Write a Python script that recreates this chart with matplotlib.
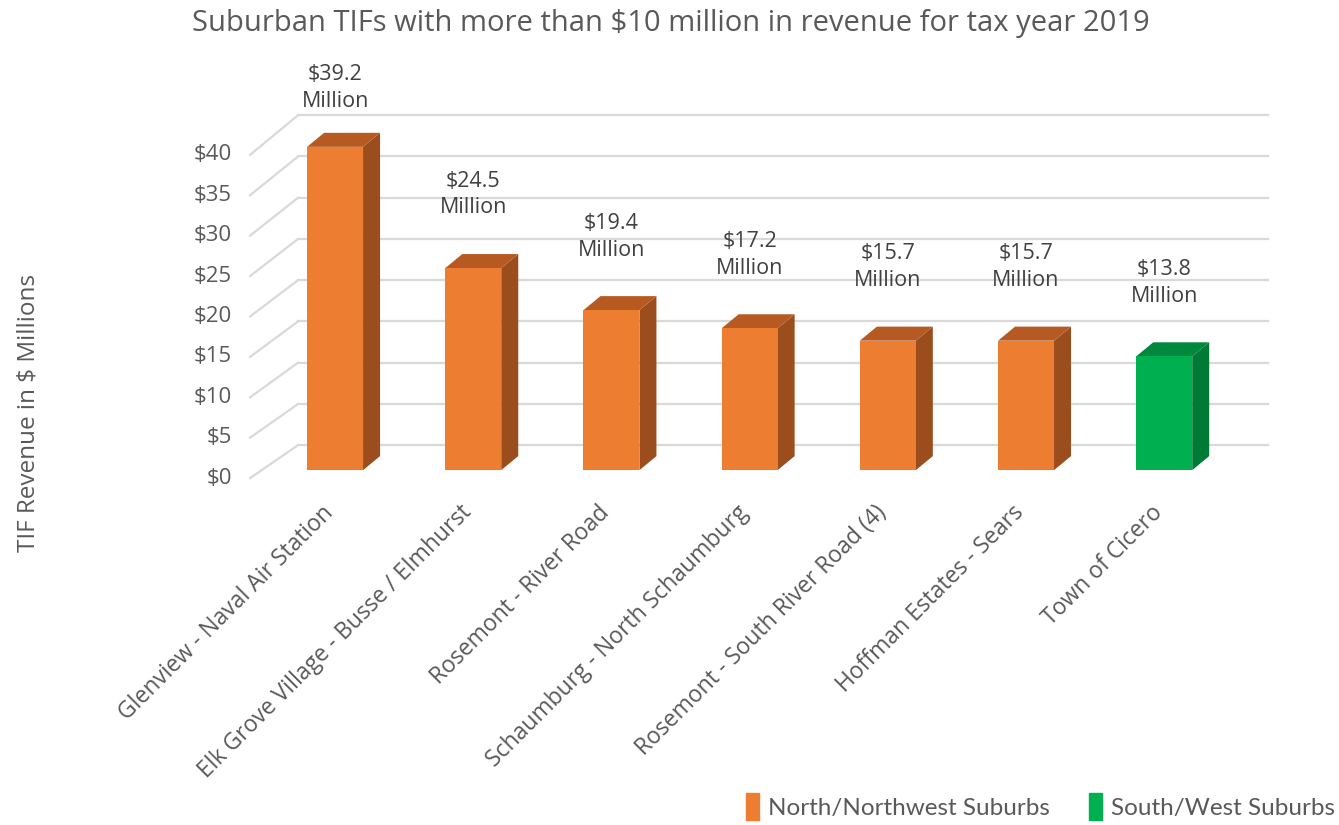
import matplotlib
matplotlib.use("Agg")
import matplotlib.pyplot as plt
from matplotlib.patches import Polygon, Patch

plt.rcParams['font.family'] = ['Open Sans', 'DejaVu Sans']

# data
tifs = ['Glenview - Naval Air Station', 'Elk Grove Village - Busse / Elmhurst',
        'Rosemont - River Road', 'Schaumburg - North Schaumburg',
        'Rosemont - South River Road (4)', 'Hoffman Estates - Sears',
        'Town of Cicero']
revenue = [39.2, 24.5, 19.4, 17.2, 15.7, 15.7, 13.8]
region = ['North/Northwest Suburbs'] * 6 + ['South/West Suburbs']
yticks = [0, 5, 10, 15, 20, 25, 30, 35, 40]

front = {'North/Northwest Suburbs': '#ED7D31', 'South/West Suburbs': '#00B050'}
side = {'North/Northwest Suburbs': '#9C4D1D', 'South/West Suburbs': '#007A35'}
top = {'North/Northwest Suburbs': '#B65A22', 'South/West Suburbs': '#00893C'}
grid_c = '#D9D9D9'
txt_c = '#595959'

fig = plt.figure(figsize=(13.39, 8.25), dpi=100)
ax = fig.add_axes([0.1718, 0.418, 0.7916, 0.455])
ax.set_xlim(-0.76, 6.91)
ax.set_ylim(-1.214, 44.3)
ax.axis('off')

# fake 3d geometry (data units)
w = 0.405          # bar width
ddx, ddy = 0.123, 1.70   # bar depth offset
wall_x0, wall_x1 = -0.268, 6.75
floor_x = -0.615

def back_y(v):
    return 3.03 + v

def front_y(v):
    return -0.97 + 0.98 * v

# back wall grid + floor diagonals
for v in yticks:
    ax.plot([wall_x0, wall_x1], [back_y(v), back_y(v)], color=grid_c, lw=1.6, zorder=1)
    ax.plot([floor_x, wall_x0], [front_y(v), back_y(v)], color=grid_c, lw=1.6, zorder=1)
    ax.text(-0.745, front_y(v), f'${v}', ha='right', va='center',
            fontsize=16, color=txt_c)

# bars
for i, (v, r) in enumerate(zip(revenue, region)):
    x0, x1 = i - w / 2, i + w / 2
    ax.add_patch(Polygon([(x1, 0), (x1 + ddx, ddy), (x1 + ddx, v + ddy), (x1, v)],
                         closed=True, fc=side[r], ec='none', zorder=3))
    ax.add_patch(Polygon([(x0, v), (x1, v), (x1 + ddx, v + ddy), (x0 + ddx, v + ddy)],
                         closed=True, fc=top[r], ec='none', zorder=3))
    ax.bar(i, v, width=w, color=front[r], zorder=4)
    ly = min(v + ddy + 7.2, 46.3)
    ax.text(i, ly, f'${v}\nMillion', ha='center', va='center', fontsize=15.5,
            color='#404040', linespacing=1.35, clip_on=False)

# category labels
for i, name in enumerate(tifs):
    ax.text(i - 0.1, -3.7, name, rotation=45, ha='right', va='top',
            rotation_mode='anchor', fontsize=16.5, color=txt_c)

fig.text(0.021, 0.50, 'TIF Revenue in $ Millions', rotation=90, ha='center',
         va='center', fontsize=17.5, color=txt_c)
fig.text(0.501, 0.972, 'Suburban TIFs with more than $10 million in revenue for tax year 2019',
         ha='center', va='center', fontsize=21, color=txt_c)

handles = [Patch(color=front[k], label=k) for k in front]
fig.legend(handles=handles, loc='lower right', bbox_to_anchor=(1.013, -0.02), ncol=2,
           frameon=False, handlelength=0.55, handleheight=1.3, handletextpad=0.35,
           columnspacing=1.6, prop={'family': ['Lato', 'DejaVu Sans'], 'size': 17.5},
           labelcolor=txt_c)

fig.savefig('out.png', dpi=100, facecolor='white')
